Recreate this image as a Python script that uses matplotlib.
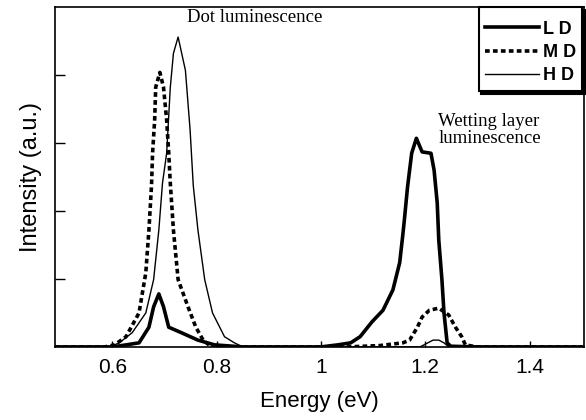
"""
Photoluminescence spectra of quantum dot samples (LD / MD / HD)
"""
import matplotlib
matplotlib.use('Agg')
import matplotlib.pyplot as plt

# -- Data --------------------------------------------
e_ld = [0.49, 0.60, 0.626, 0.651, 0.670, 0.679, 0.689, 0.698, 0.708, 0.732, 0.764,
        0.796, 0.85, 1.00, 1.032, 1.057, 1.075, 1.098, 1.119, 1.138, 1.151, 1.157,
        1.160, 1.166, 1.174, 1.183, 1.194, 1.211, 1.217, 1.223, 1.226, 1.232,
        1.236, 1.242, 1.249, 1.30, 1.50]
i_ld = [0.0, 0.0, 0.03, 0.06, 0.29, 0.59, 0.78, 0.59, 0.29, 0.21, 0.10,
        0.03, 0.0, 0.0, 0.03, 0.06, 0.15, 0.37, 0.54, 0.84, 1.24, 1.65,
        1.87, 2.35, 2.85, 3.07, 2.87, 2.85, 2.60, 2.12, 1.57, 0.99,
        0.50, 0.06, 0.01, 0.0, 0.0]

e_md = [0.49, 0.585, 0.604, 0.626, 0.651, 0.664, 0.670, 0.675, 0.677, 0.681, 0.683,
        0.691, 0.698, 0.704, 0.708, 0.711, 0.717, 0.726, 0.745, 0.760, 0.774,
        0.79, 1.05, 1.113, 1.157, 1.170, 1.185, 1.194, 1.208, 1.226, 1.245,
        1.258, 1.270, 1.277, 1.30, 1.50]
i_md = [0.0, 0.0, 0.03, 0.15, 0.50, 1.09, 1.72, 2.38, 2.85, 3.34, 3.82,
        4.04, 3.82, 3.34, 2.85, 2.41, 1.72, 0.99, 0.59, 0.29, 0.10,
        0.0, 0.0, 0.02, 0.06, 0.10, 0.29, 0.44, 0.54, 0.57, 0.47,
        0.29, 0.15, 0.03, 0.0, 0.0]

e_hd = [0.49, 0.595, 0.613, 0.638, 0.664, 0.679, 0.689, 0.696, 0.704, 0.711, 0.717,
        0.726, 0.740, 0.749, 0.755, 0.764, 0.777, 0.792, 0.815, 0.834, 0.85,
        1.19, 1.205, 1.215, 1.226, 1.236, 1.245, 1.50]
i_hd = [0.0, 0.0, 0.06, 0.21, 0.50, 0.99, 1.72, 2.41, 2.85, 3.82, 4.32,
        4.56, 4.07, 3.19, 2.38, 1.72, 0.99, 0.50, 0.15, 0.06, 0.0,
        0.0, 0.06, 0.10, 0.10, 0.06, 0.0, 0.0]

y_ticks = [1, 2, 3, 4]
x_ticks = [0.6, 0.8, 1.0, 1.2, 1.4]
x_labels = ['0.6', '0.8', '1', '1.2', '1.4']

# -- Plotting ----------------------------------------
plt.rcParams['font.family'] = ['Liberation Sans', 'DejaVu Sans']
fig = plt.figure(figsize=(5.86, 4.2), dpi=100)
ax = fig.add_axes([0.094, 0.174, 0.903, 0.809])

ax.plot(e_ld, i_ld, color='black', lw=2.6, solid_joinstyle='round', label='L D')
ax.plot(e_md, i_md, color='black', lw=2.6, linestyle=(0, (1.3, 0.9)), label='M D')
ax.plot(e_hd, i_hd, color='black', lw=1.0, label='H D')

ax.set_xlim(0.49, 1.505)
ax.set_ylim(0, 5)
ax.set_xticks(x_ticks)
ax.set_xticklabels(x_labels)
ax.set_yticks(y_ticks)
ax.set_yticklabels([])
ax.tick_params(axis='y', direction='in', length=7, width=1.0)
ax.tick_params(axis='x', direction='in', length=4, width=1.0, labelsize=15, pad=8)
for s in ax.spines.values():
    s.set_linewidth(1.2)

ax.set_xlabel('Energy (eV)', fontsize=16, labelpad=10)
ax.set_ylabel('Intensity (a.u.)', fontsize=17, labelpad=6)

serif = ['Liberation Serif', 'DejaVu Serif']
ax.text(0.743, 4.78, 'Dot luminescence', family=serif, fontsize=13.5)
ax.text(1.225, 3.0, 'Wetting layer\nluminescence', family=serif,
        fontsize=13.5, linespacing=1.0)

leg = ax.legend(loc='upper right', bbox_to_anchor=(0.996, 1.0), fancybox=False,
                shadow={'color': 'black', 'alpha': 1}, edgecolor='black',
                framealpha=1, handlelength=3.0, handletextpad=0.2,
                borderaxespad=0, borderpad=0.35, labelspacing=0.35,
                title=' ', title_fontsize=1,
                prop={'weight': 'bold', 'size': 13})
leg.get_frame().set_linewidth(1.5)

fig.savefig('out.png', dpi=100)
